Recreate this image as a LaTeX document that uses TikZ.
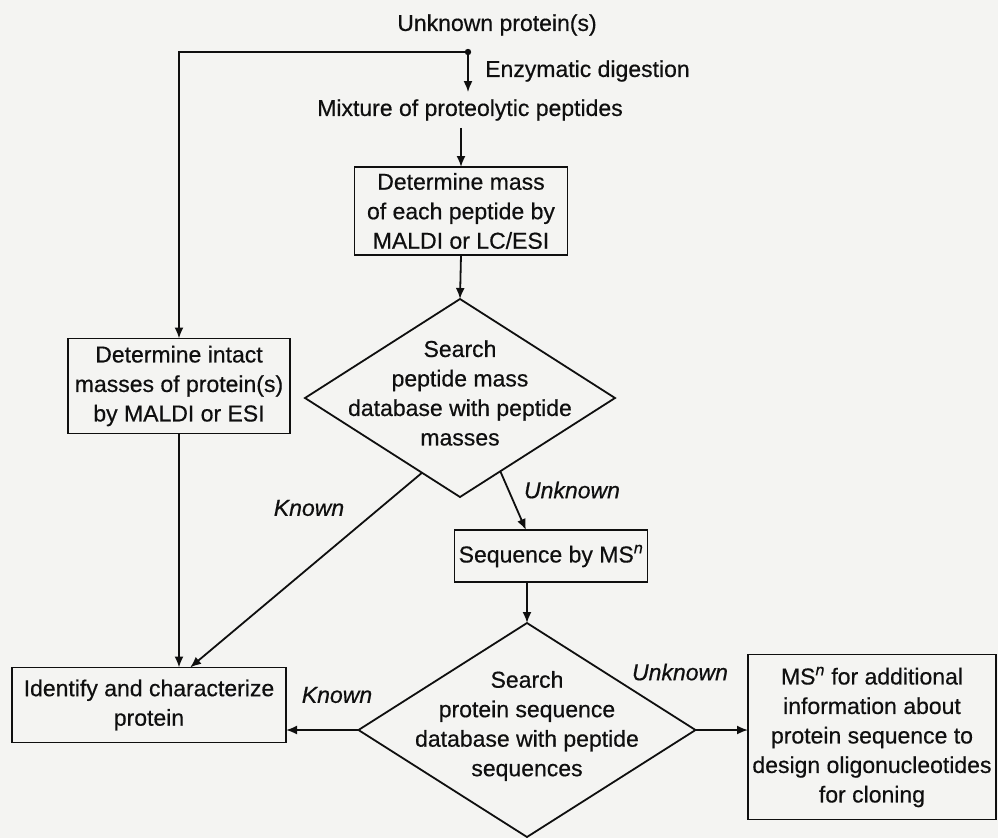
\documentclass[tikz,border=0pt]{standalone}
\usepackage{fontspec}
\setmainfont{Liberation Sans}
\newfontfamily\diagfont{Liberation Sans}[UprightFeatures={FakeBold=0.5},ItalicFeatures={FakeBold=0.5}]
\usetikzlibrary{shapes.geometric,arrows.meta,calc}
\definecolor{bg}{RGB}{244,244,242}
\definecolor{ink}{RGB}{15,15,15}
\begin{document}
\begin{tikzpicture}[x=1pt,y=-1pt,
  every node/.style={font=\diagfont\fontsize{23}{29.5}\selectfont, text=ink},
  box/.style={draw=ink, line width=1.8pt, align=center, inner sep=2pt, outer sep=0pt},
  dia/.style={draw=ink, line width=1.8pt, diamond, inner sep=0pt, outer sep=0pt},
  txt/.style={align=center, inner sep=0pt},
  lbl/.style={font=\diagfont\itshape\fontsize{23}{29.5}\selectfont, inner sep=0pt},
  arr/.style={draw=ink, line width=1.8pt, -{Latex[length=11pt,width=9pt]}},
  ln/.style={draw=ink, line width=1.8pt}]
\fill[bg] (0,0) rectangle (998,838);
\useasboundingbox (0,0) rectangle (998,838);

% nodes
\node[txt] (unk) at (497,25) {Unknown protein(s)};
\coordinate (split) at (468,52);
\node[txt, anchor=west] (enz) at (485,71) {Enzymatic digestion};
\node[txt, inner ysep=7pt] (mix) at (470,110) {Mixture of proteolytic peptides};
\node[box, minimum width=213pt, minimum height=88pt] (b1) at (461,211) {Determine mass\\of each peptide by\\MALDI or LC/ESI};
\node[box, minimum width=222pt, minimum height=95pt] (intact) at (179,386) {Determine intact\\masses of protein(s)\\by MALDI or ESI};
\node[dia, minimum width=310pt, minimum height=198pt] (d1) at (460,398) {};
\node[txt] (d1t) at (460,393) {Search\\peptide mass\\database with peptide\\masses};
\node[box, minimum width=193pt, minimum height=52pt] (seq) at (551,556) {Sequence by MS\textsuperscript{\textit{n}}};
\node[dia, minimum width=337pt, minimum height=214pt] (d2) at (527,730) {};
\node[txt] (d2t) at (527,726) {Search\\protein sequence\\database with peptide\\sequences};
\node[box, minimum width=274pt, minimum height=75pt] (ident) at (149,705) {Identify and characterize\\protein};
\node[box, minimum width=248pt, minimum height=165pt] (ms) at (872,737) {MS\textsuperscript{\textit{n}} for additional\\information about\\protein sequence to\\design oligonucleotides\\for cloning};

% labels
\node[lbl] (k1) at (309,508) {Known};
\node[lbl] (u1) at (572,490) {Unknown};
\node[lbl] (k2) at (337,695) {Known};
\node[lbl] (u2) at (680,672) {Unknown};

% connectors
\fill[ink] (split) circle (3.2pt);
\draw[arr] (split) -- (split |- mix.north);
\draw[arr] (split) -| (intact.north);
\draw[arr] (b1.north |- mix.south) -- (b1.north);
\draw[arr] (b1.south) -- (d1.north);
\draw[arr] (intact.south) -- (intact.south |- ident.north);
\draw[arr] ($(d1.west)!0.755!(d1.south)$) -- ($(ident.north west)!0.65!(ident.north east)$);
\draw[arr] ($(d1.south)!0.26!(d1.east)$) -- ($(seq.north west)!0.37!(seq.north east)$);
\draw[arr] (seq.south -| d2.north) -- (d2.north);
\draw[arr] (d2.west) -- (d2.west -| ident.east);
\draw[arr] (d2.east) -- (d2.east -| ms.west);
\end{tikzpicture}
\end{document}
